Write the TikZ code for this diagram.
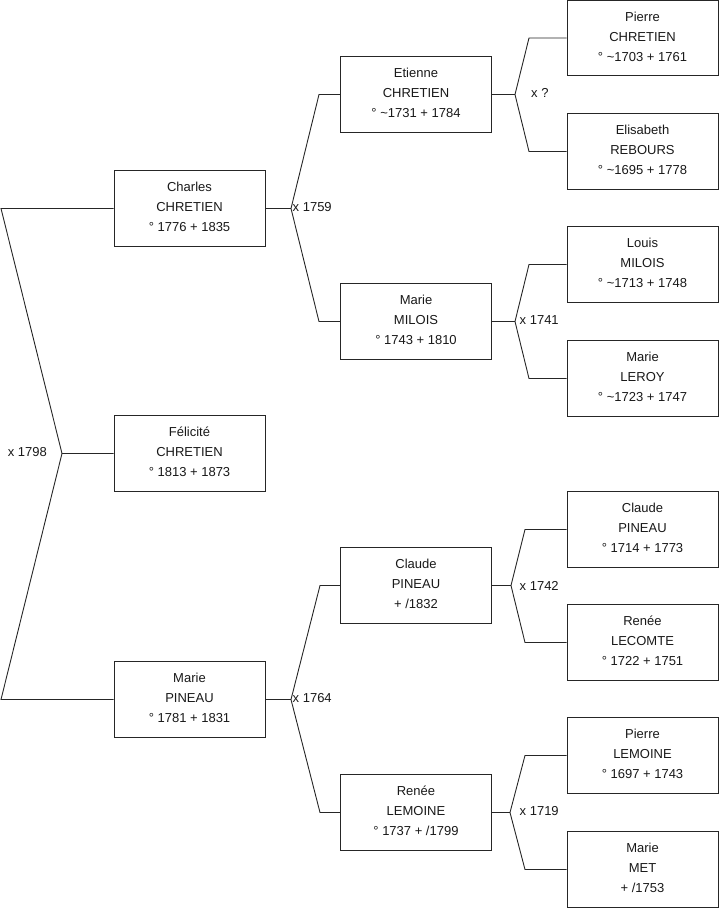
\documentclass[tikz,border=0pt]{standalone}
\usepackage{fontspec}
\setmainfont{Liberation Sans}
\begin{document}
\begin{tikzpicture}[x=1pt,y=-1pt,
  person/.style={draw=black!85, line width=1pt, fill=white, rectangle,
    minimum width=151pt, minimum height=75.5pt, inner sep=0pt, text depth=3pt,
    align=center, font=\fontsize{13}{20}\selectfont, text=black!90},
  link/.style={draw=black!85, line width=0.9pt},
  marr/.style={inner sep=0pt, font=\fontsize{13}{16}\selectfont, text=black!90}]
\useasboundingbox (0,0) rectangle (719,908);
% generation 1
\node[person] (charles)  at (189.5,208.5) {Charles\\CHRETIEN\\° 1776 + 1835};
\node[person] (felicite) at (189.5,453.5) {Félicité\\CHRETIEN\\° 1813 + 1873};
\node[person] (marieP)   at (189.5,699.5) {Marie\\PINEAU\\° 1781 + 1831};
% generation 2
\node[person] (etienne)  at (416,94.5)  {Etienne\\CHRETIEN\\° \textasciitilde1731 + 1784};
\node[person] (marieM)   at (416,321.5) {Marie\\MILOIS\\° 1743 + 1810};
\node[person] (claudeP)  at (416,585.5) {Claude\\PINEAU\\+ /1832};
\node[person] (reneeL)   at (416,812.5) {Renée\\LEMOINE\\° 1737 + /1799};
% generation 3
\node[person] (pierreC)   at (642.5,38)    {Pierre\\CHRETIEN\\° \textasciitilde1703 + 1761};
\node[person] (elisabeth) at (642.5,151.5) {Elisabeth\\REBOURS\\° \textasciitilde1695 + 1778};
\node[person] (louis)     at (642.5,264.5) {Louis\\MILOIS\\° \textasciitilde1713 + 1748};
\node[person] (marieL)    at (642.5,378.5) {Marie\\LEROY\\° \textasciitilde1723 + 1747};
\node[person] (claudeP2)  at (642.5,529.5) {Claude\\PINEAU\\° 1714 + 1773};
\node[person] (reneeLc)   at (642.5,642.5) {Renée\\LECOMTE\\° 1722 + 1751};
\node[person] (pierreL)   at (642.5,755.5) {Pierre\\LEMOINE\\° 1697 + 1743};
\node[person] (marieMet)  at (642.5,869.5) {Marie\\MET\\+ /1753};
% fork points
\coordinate (f1798) at (62,453.5);
\coordinate (f1759) at (291,208.5);
\coordinate (f1764) at (291,699.5);
\coordinate (fq)    at (515,94.5);
\coordinate (f1741) at (515,321.5);
\coordinate (f1742) at (511,585.5);
\coordinate (f1719) at (510,812.5);
% connectors
\draw[link] (charles.west) -- (1,208.5) -- (f1798) -- (felicite.west);
\draw[link] (f1798) -- (1,699.5) -- (marieP.west);
\draw[link] (charles.east) -- (f1759);
\draw[link] (f1759) -- (319,94.5) -- (etienne.west);
\draw[link] (f1759) -- (319,321.5) -- (marieM.west);
\draw[link] (marieP.east) -- (f1764);
\draw[link] (f1764) -- (320,585.5) -- (claudeP.west);
\draw[link] (f1764) -- (320,812.5) -- (reneeL.west);
\draw[link] (etienne.east) -- (fq);
\draw[link] (fq) -- (529,38) -- (pierreC.west);
\draw[link] (fq) -- (529,151.5) -- (elisabeth.west);
\draw[link] (marieM.east) -- (f1741);
\draw[link] (f1741) -- (529,264.5) -- (louis.west);
\draw[link] (f1741) -- (529,378.5) -- (marieL.west);
\draw[link] (claudeP.east) -- (f1742);
\draw[link] (f1742) -- (525,529.5) -- (claudeP2.west);
\draw[link] (f1742) -- (525,642.5) -- (reneeLc.west);
\draw[link] (reneeL.east) -- (f1719);
\draw[link] (f1719) -- (525,755.5) -- (pierreL.west);
\draw[link] (f1719) -- (525,869.5) -- (marieMet.west);
% marriage labels
\node[marr, anchor=east] (l1798) at (47,452) {x 1798};
\node[marr, anchor=west] (l1759) at (292.5,207.5) {x 1759};
\node[marr, anchor=west] (l1764) at (292.5,698.5) {x 1764};
\node[marr, anchor=west] (lq)    at (531,92.5) {x ?};
\node[marr, anchor=west] (l1741) at (519.5,320.5) {x 1741};
\node[marr, anchor=west] (l1742) at (519.5,585.5) {x 1742};
\node[marr, anchor=west] (l1719) at (519.5,811.5) {x 1719};
\end{tikzpicture}
\end{document}
